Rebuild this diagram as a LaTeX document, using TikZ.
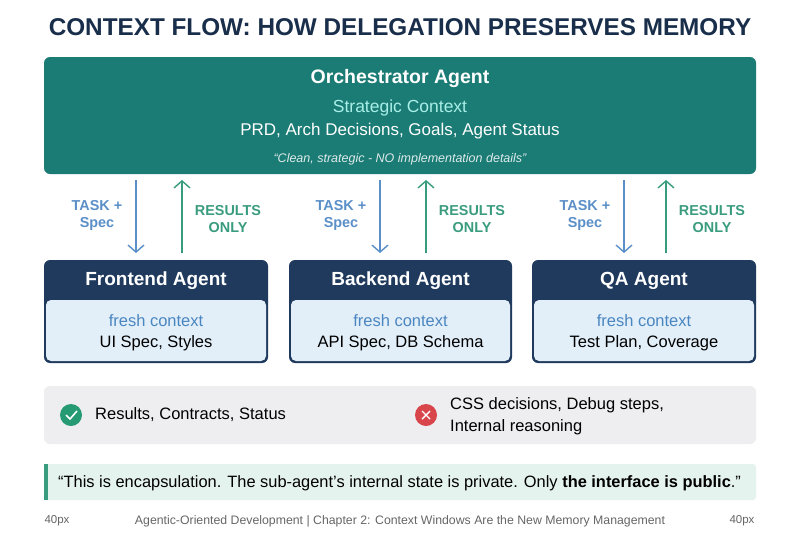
\documentclass[tikz,border=0pt]{standalone}
\usepackage{fontspec}
\setmainfont{Liberation Sans}
\usepackage{tikz}
\definecolor{tealbox}{HTML}{1B7B75}
\definecolor{navy}{HTML}{1F3A5C}
\definecolor{paleblue}{HTML}{E2EFF9}
\definecolor{taskblue}{HTML}{5A8FC8}
\definecolor{resgreen}{HTML}{3A9C7E}
\definecolor{barbg}{HTML}{EEEEF0}
\definecolor{mint}{HTML}{E5F3EE}
\definecolor{cyantext}{HTML}{A8EFE8}
\definecolor{freshblue}{HTML}{4A86C0}
\definecolor{okgreen}{HTML}{259A73}
\definecolor{badred}{HTML}{D8454A}
\begin{document}
\begin{tikzpicture}[x=1pt,y=-1pt,
    every node/.style={inner sep=0pt},
    task/.style={draw=taskblue,line width=1.4pt,-{Straight Barb[length=7pt,width=16pt]}},
    result/.style={draw=resgreen,line width=1.4pt,-{Straight Barb[length=7pt,width=16pt]}},
    tasklbl/.style={text=taskblue,font=\bfseries\fontsize{14.4}{17}\selectfont,align=center},
    reslbl/.style={text=resgreen,font=\bfseries\fontsize{14.4}{17}\selectfont,align=center},
    agenthead/.style={text=white,font=\bfseries\fontsize{19}{21}\selectfont},
    freshlbl/.style={text=freshblue,font=\fontsize{16.5}{19}\selectfont},
    agentctx/.style={font=\fontsize{16.5}{19}\selectfont}]
\usetikzlibrary{arrows.meta}
\useasboundingbox (0,0) rectangle (800,536);
\fill[white] (0,0) rectangle (800,536);
% title
\node (title) at (400,27) {\bfseries\fontsize{24.3}{27}\selectfont\color{navy!80!black}CONTEXT FLOW: HOW DELEGATION PRESERVES MEMORY};
% orchestrator
\fill[tealbox,rounded corners=6pt] (44,57) rectangle (756,174);
\node[text=white,font=\bfseries\fontsize{19.5}{21}\selectfont] (orch) at (400,78) {Orchestrator Agent};
\node[text=cyantext,font=\fontsize{17.5}{19}\selectfont] (strat) at (400,108) {Strategic Context};
\node[text=white,font=\fontsize{17}{19}\selectfont] (prd) at (400,131) {PRD, Arch Decisions, Goals, Agent Status};
\node[text=white!85!tealbox,font=\itshape\fontsize{12.5}{14}\selectfont] (clean) at (400,159) {``Clean, strategic - NO implementation details''};
% agent boxes
\foreach \nm/\xa/\xb/\head/\ctx in {fe/44/268/Frontend Agent/{UI Spec, Styles},
    be/289/512/Backend Agent/{API Spec, DB Schema},
    qa/532/756/QA Agent/{Test Plan, Coverage}}{
  \fill[navy,rounded corners=6pt] (\xa,260) rectangle (\xb,363);
  \fill[paleblue,rounded corners=5pt] (\xa+2,300) rectangle (\xb-2,361);
  \node[agenthead] (\nm head) at ({(\xa+\xb)/2},281) {\head};
  \node[freshlbl] (\nm fresh) at ({(\xa+\xb)/2},321) {fresh context};
  \node[agentctx] (\nm ctx) at ({(\xa+\xb)/2},343) {\ctx};
}
% task / result arrows
\foreach \nm/\xd/\xu in {fe/136/182, be/380/426, qa/624/666}{
  \coordinate (\nm dtop) at (\xd,180);
  \coordinate (\nm dbot) at (\xd,253);
  \coordinate (\nm ubot) at (\xu,253);
  \coordinate (\nm utop) at (\xu,180);
  \draw[task] (\nm dtop) -- (\nm dbot);
  \draw[result] (\nm ubot) -- (\nm utop);
  \node[tasklbl] (\nm task) at (\xd-39,215) {TASK +\\Spec};
  \node[reslbl] (\nm res) at (\xu+46,219) {RESULTS\\ONLY};
}
% summary bar
\fill[barbg,rounded corners=6pt] (44,386) rectangle (756,444);
\node[circle,fill=okgreen,minimum size=22pt] (okmark) at (71,415) {};
\draw[white,line width=1.6pt] (66,415) -- (70,419) -- (77,411);
\node[anchor=west,font=\fontsize{16.5}{19}\selectfont] (oktext) at (95,415) {Results, Contracts, Status};
\node[circle,fill=badred,minimum size=22pt] (badmark) at (426,415) {};
\draw[white,line width=1.4pt] (422,411) -- (430,419) (430,411) -- (422,419);
\node[anchor=west,align=left,font=\fontsize{16.5}{22}\selectfont] (badtext) at (450,416) {CSS decisions, Debug steps,\\Internal reasoning};
% quote
\fill[mint,rounded corners=3pt] (44,464) rectangle (756,500);
\fill[resgreen] (44,464) rectangle (48,500);
\node[anchor=west,font=\fontsize{16.4}{19}\selectfont] (quote) at (58,483) {“This is encapsulation. The sub-agent’s internal state is private. Only \textbf{the interface is public}.”};
% footer
\node[text=black!60,font=\fontsize{11.5}{13}\selectfont] (padl) at (57,521) {40px};
\node[text=black!60,font=\fontsize{12.3}{13}\selectfont] (foot) at (400,521) {Agentic-Oriented Development | Chapter 2: Context Windows Are the New Memory Management};
\node[text=black!60,font=\fontsize{11.5}{13}\selectfont] (padr) at (742,521) {40px};
\end{tikzpicture}
\end{document}
